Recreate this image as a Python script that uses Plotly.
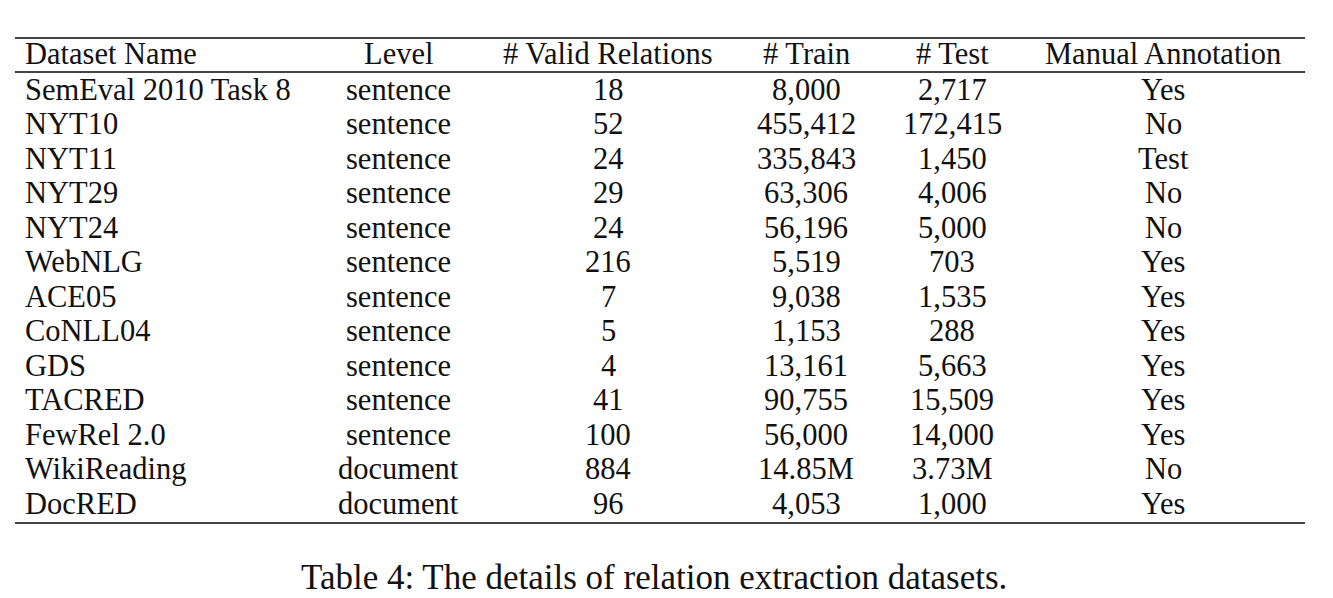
import plotly.graph_objects as go

# table contents
names = ["SemEval 2010 Task 8", "NYT10", "NYT11", "NYT29", "NYT24", "WebNLG", "ACE05",
         "CoNLL04", "GDS", "TACRED", "FewRel 2.0", "WikiReading", "DocRED"]
levels = ["sentence"] * 11 + ["document", "document"]
relations = ["18", "52", "24", "29", "24", "216", "7", "5", "4", "41", "100", "884", "96"]
train = ["8,000", "455,412", "335,843", "63,306", "56,196", "5,519", "9,038", "1,153",
         "13,161", "90,755", "56,000", "14.85M", "4,053"]
test = ["2,717", "172,415", "1,450", "4,006", "5,000", "703", "1,535", "288", "5,663",
        "15,509", "14,000", "3.73M", "1,000"]
manual = ["Yes", "No", "Test", "No", "No", "Yes", "Yes", "Yes", "Yes", "Yes", "Yes", "No", "Yes"]
headers = ["Dataset Name", "Level", "# Valid Relations", "# Train", "# Test", "Manual Annotation"]
caption = "Table 4: The details of relation extraction datasets."

W, H = 1333, 598
OFF = 8  # page body margin
FONT = dict(family="Liberation Serif, Times New Roman, serif", size=30.5, color="#111")
CAP_FONT = dict(FONT, size=35)

# column anchor x and alignment
col_x = [23, 398, 608, 806, 952, 1163]
col_anchor = ["left", "center", "center", "center", "center", "center"]
header_y = 53.5
row_y0, row_dy = 89.5, 34.5

fig = go.Figure()
ann = []
for x, a, h in zip(col_x, col_anchor, headers):
    ann.append(dict(x=x, y=header_y, text=h, xanchor=a, yanchor="middle", showarrow=False, font=FONT))

columns = [names, levels, relations, train, test, manual]
for x, a, col in zip(col_x, col_anchor, columns):
    for i, v in enumerate(col):
        ann.append(dict(x=x, y=row_y0 + i * row_dy, text=v, xanchor=a, yanchor="middle",
                        showarrow=False, font=FONT))

ann.append(dict(x=654, y=577, text=caption, xanchor="center", yanchor="middle",
                showarrow=False, font=CAP_FONT))

rule = dict(type="line", x0=15, x1=1305, line=dict(color="#444", width=2))
shapes = [dict(rule, y0=y, y1=y) for y in (38, 72, 523)]

fig.update_layout(
    width=W, height=H,
    margin=dict(l=0, r=0, t=0, b=0),
    paper_bgcolor="white", plot_bgcolor="white",
    xaxis=dict(range=[OFF, W + OFF], visible=False),
    yaxis=dict(range=[H + OFF, OFF], visible=False),
    annotations=ann, shapes=shapes,
    showlegend=False,
)

fig.write_html("out.html")
